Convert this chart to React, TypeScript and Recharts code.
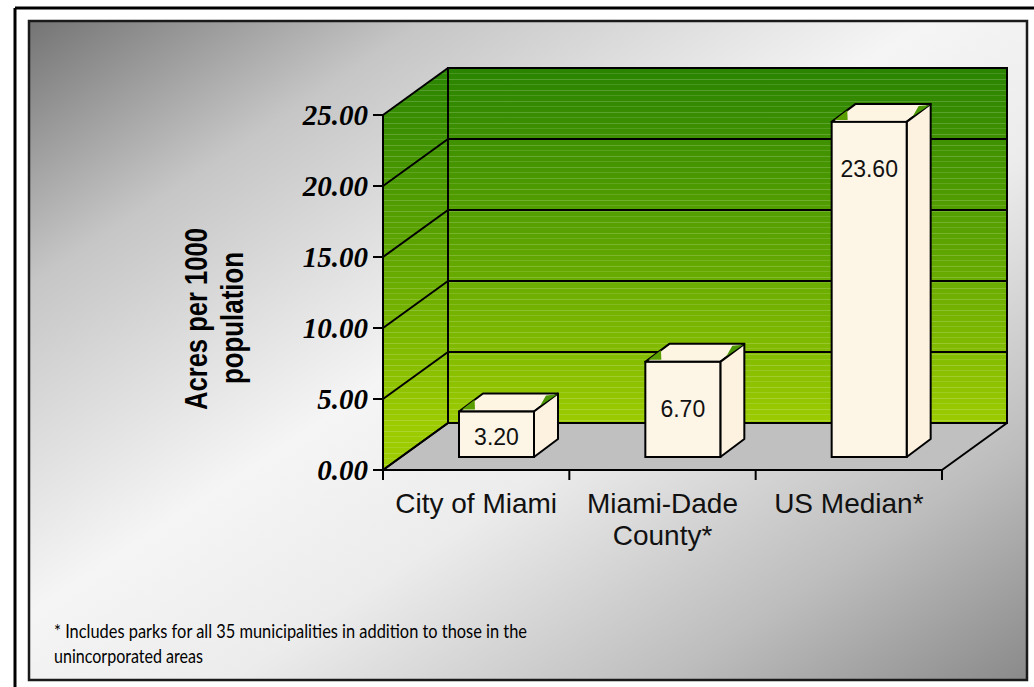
import React from 'react';
import { ComposedChart, Bar, XAxis, YAxis, ReferenceArea, LabelList } from 'recharts';

// ---- data ----
const categories = ['City of Miami', 'Miami-Dade\nCounty*', 'US Median*'];
const acresPer1000 = [3.2, 6.7, 23.6];
const yTicks = [0, 5, 10, 15, 20, 25];
const yTitleLines = ['Acres per 1000', 'population'];
const footnoteLines = [
  '* Includes parks for all 35 municipalities in addition to those in the',
  'unincorporated areas',
];

const data = categories.map((name, i) => ({ name, value: acresPer1000[i] }));
const gridBands = yTicks.slice(0, -1).map((t, i) => ({ from: t, to: yTicks[i + 1], last: i === yTicks.length - 2 }));

// ---- 3D geometry (styles) ----
const WALL_DX = 65;
const WALL_DY = -47;
const BAR_DX = 20;
const BAR_DY = -13;
const DEPTH_DX = 24;
const DEPTH_DY = -18;

const Walls = (props: any) => {
  const { x, y, width: w, height: h } = props;
  if (x == null || y == null) return null;
  const bx = x + WALL_DX;
  const by = y + WALL_DY;
  const n = categories.length;
  const ticks = [];
  for (let i = 0; i <= n; i++) {
    const tx = x + (i * w) / n;
    ticks.push(<line key={i} x1={tx} y1={y + h} x2={tx} y2={y + h + 10} stroke="#000" strokeWidth={2} />);
  }
  return (
    <g>
      <rect x={bx} y={by} width={w} height={h} fill="url(#wallGreen)" />
      <rect x={bx} y={by} width={w} height={h} fill="url(#streaks)" />
      <polygon points={`${x},${y} ${bx},${by} ${bx},${by + h} ${x},${y + h}`} fill="url(#wallGreen)" />
      <polygon points={`${x},${y} ${bx},${by} ${bx},${by + h} ${x},${y + h}`} fill="url(#streaks)" />
      <polygon
        points={`${x},${y + h} ${bx},${by + h} ${bx + w},${by + h} ${x + w},${y + h}`}
        fill="#c0c0c0"
        stroke="#000"
        strokeWidth={2}
        strokeLinejoin="round"
      />
      <rect x={bx} y={by} width={w} height={h} fill="none" stroke="#000" strokeWidth={2} />
      {ticks}
    </g>
  );
};

// draws the 3D gridline at the bottom of a band (and at its top for the last band)
const makeGridBand = (last: boolean) => (props: any) => {
  const { x, y, width: w, height: h } = props;
  if (x == null || y == null) return null;
  const line = (yy: number, k: string) => (
    <g key={k}>
      <line x1={x} y1={yy} x2={x + WALL_DX} y2={yy + WALL_DY} stroke="#000" strokeWidth={2} />
      <line x1={x + WALL_DX} y1={yy + WALL_DY} x2={x + w + WALL_DX} y2={yy + WALL_DY} stroke="#000" strokeWidth={2} />
    </g>
  );
  return (
    <g>
      {line(y + h, 'b')}
      {last ? line(y, 't') : null}
    </g>
  );
};

const Box3D = (props: any) => {
  const { x, y, width: w, height: h } = props;
  if (x == null || h == null) return null;
  const fx = x + BAR_DX;
  const fy = y + BAR_DY;
  const dx = DEPTH_DX;
  const dy = DEPTH_DY;
  return (
    <g>
      <g stroke="#000" strokeWidth={2} strokeLinejoin="round">
        <polygon points={`${fx},${fy} ${fx + dx},${fy + dy} ${fx + w + dx},${fy + dy} ${fx + w},${fy}`} fill="#fdf4e2" />
        <polygon points={`${fx + w},${fy} ${fx + w + dx},${fy + dy} ${fx + w + dx},${fy + h + dy} ${fx + w},${fy + h}`} fill="#fcf2df" />
      </g>
      <polygon points={`${fx + 3},${fy - 2} ${fx + dx * 0.65},${fy + dy * 0.65} ${fx + 16},${fy - 2}`} fill="#5a9e00" />
      <polygon points={`${fx + w + dx * 0.25},${fy + dy * 0.25 - 1} ${fx + w + dx - 1},${fy + dy + 1} ${fx + w + dx - 12},${fy + dy + 2}`} fill="#4a9600" />
      <rect x={fx} y={fy} width={w} height={h} fill="#fdf5e6" stroke="#000" strokeWidth={2} />
    </g>
  );
};

const BarValueLabel = (props: any) => {
  const { x, y, width, height, value } = props;
  const top = y + BAR_DY;
  const cy = top + Math.min(height / 2 + 3, 47);
  return (
    <text
      x={x + BAR_DX + width / 2}
      y={cy}
      textAnchor="middle"
      dominantBaseline="central"
      fontFamily="'Liberation Sans', Arial, sans-serif"
      fontSize={23}
      fill="#111"
    >
      {Number(value).toFixed(2)}
    </text>
  );
};

const ValueTick = (props: any) => (
  <text
    x={props.x}
    y={props.y}
    textAnchor="end"
    dominantBaseline="central"
    fontFamily="'Liberation Serif', 'Times New Roman', serif"
    fontWeight="bold"
    fontStyle="italic"
    fontSize={29}
    fill="#000"
  >
    {Number(props.payload.value).toFixed(2)}
  </text>
);

const CategoryTick = (props: any) => {
  const { x, y, payload } = props;
  const lines = String(payload.value).split('\n');
  return (
    <text textAnchor="middle" fontFamily="'Liberation Sans', Arial, sans-serif" fontSize={28} fill="#111">
      {lines.map((l, i) => (
        <tspan key={i} x={x} y={y + 43 + i * 32}>
          {l}
        </tspan>
      ))}
    </text>
  );
};

const YTitle = () => (
  <g fontFamily="'Liberation Sans Narrow', 'Liberation Sans', Arial, sans-serif" fontWeight="bold" fontSize={31} fill="#000">
    <text transform="rotate(-90)" x={-319} y={207} textAnchor="middle" textLength={182} lengthAdjust="spacingAndGlyphs">
      {yTitleLines[0]}
    </text>
    <text transform="rotate(-90)" x={-318} y={243} textAnchor="middle" textLength={132} lengthAdjust="spacingAndGlyphs">
      {yTitleLines[1]}
    </text>
  </g>
);

export default function App() {
  return (
    <div style={{ position: 'absolute', left: 0, top: 0, width: 1034, height: 687, background: '#fff' }}>
      <svg width={1034} height={687} style={{ position: 'absolute', left: 0, top: 0 }}>
        <defs>
          <linearGradient id="panelBg" x1="0" y1="0" x2="1" y2="1">
            <stop offset="0" stopColor="#747474" />
            <stop offset="0.2" stopColor="#c6c6c6" />
            <stop offset="0.45" stopColor="#f5f5f5" />
            <stop offset="0.6" stopColor="#ececec" />
            <stop offset="0.82" stopColor="#bdbdbd" />
            <stop offset="1" stopColor="#8a8a8a" />
          </linearGradient>
          <linearGradient id="wallGreen" gradientUnits="userSpaceOnUse" x1={0} y1={68} x2={0} y2={423}>
            <stop offset="0" stopColor="#2a8400" />
            <stop offset="0.5" stopColor="#5da400" />
            <stop offset="1" stopColor="#9ccb00" />
          </linearGradient>
          <pattern id="streaks" patternUnits="userSpaceOnUse" x={0} y={0} width={40} height={11}>
            <rect x={0} y={2} width={40} height={1} fill="#ffffff" opacity={0.18} />
            <rect x={0} y={7} width={40} height={1} fill="#ffffff" opacity={0.12} />
          </pattern>
        </defs>
        <line x1={15} y1={8} x2={1034} y2={8} stroke="#000" strokeWidth={3} />
        <line x1={15} y1={8} x2={15} y2={687} stroke="#000" strokeWidth={3} />
        <rect x={29} y={21} width={998} height={659} fill="url(#panelBg)" stroke="#1a1a1a" strokeWidth={2.5} />
        <g fontFamily="Lato, 'Open Sans', sans-serif" fontSize={20} fill="#000">
          <text x={54} y={638} textLength={473} lengthAdjust="spacingAndGlyphs">
            {footnoteLines[0]}
          </text>
          <text x={54} y={663} textLength={149} lengthAdjust="spacingAndGlyphs">
            {footnoteLines[1]}
          </text>
        </g>
        <YTitle />
      </svg>
      <div style={{ position: 'absolute', left: 0, top: 0 }}>
        <ComposedChart width={1034} height={687} data={data} margin={{ top: 115, right: 92, bottom: 167, left: 283 }}>
          <ReferenceArea y1={0} y2={25} shape={<Walls />} ifOverflow="visible" />
          {gridBands.map((b) => (
            <ReferenceArea key={`band-${b.from}`} y1={b.from} y2={b.to} shape={makeGridBand(b.last)} ifOverflow="visible" />
          ))}
          <XAxis
            dataKey="name"
            interval={0}
            height={50}
            tickLine={false}
            tickSize={0}
            tickMargin={0}
            axisLine={{ stroke: '#000', strokeWidth: 2 }}
            tick={<CategoryTick />}
          />
          <YAxis
            type="number"
            domain={[0, 25]}
            ticks={yTicks}
            width={100}
            tickSize={10}
            tickMargin={5}
            tickLine={{ stroke: '#000', strokeWidth: 2 }}
            axisLine={{ stroke: '#000', strokeWidth: 2 }}
            tick={<ValueTick />}
          />
          <Bar dataKey="value" barSize={75} shape={<Box3D />} isAnimationActive={false}>
            <LabelList dataKey="value" content={<BarValueLabel />} />
          </Bar>
        </ComposedChart>
      </div>
    </div>
  );
}
